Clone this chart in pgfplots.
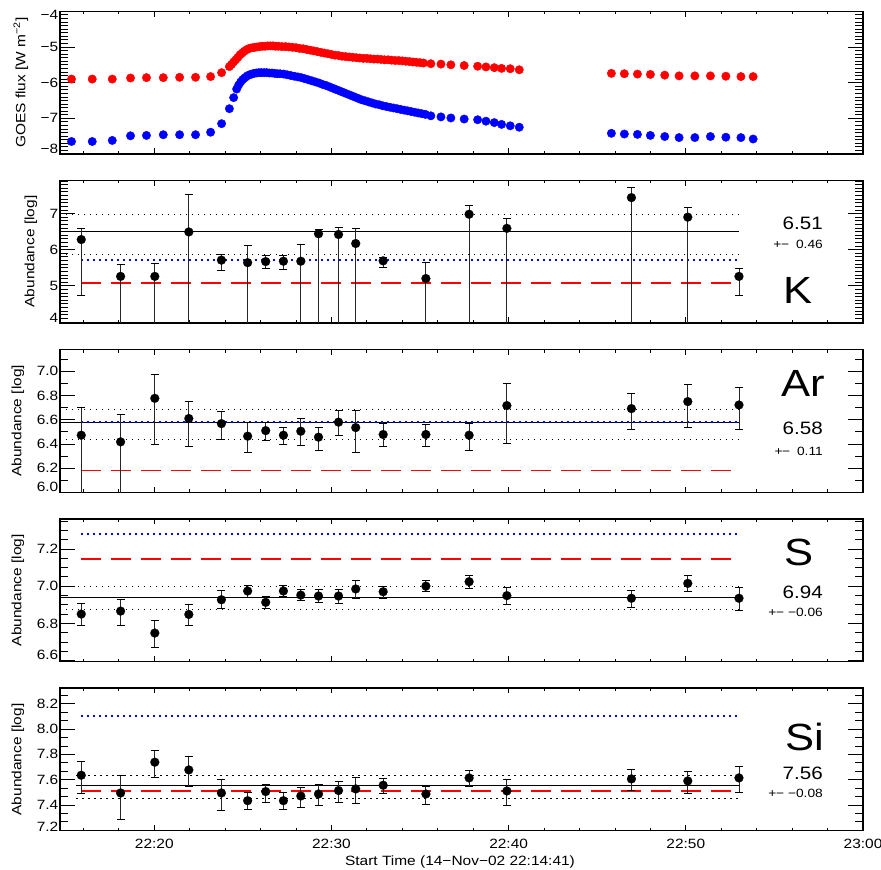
\documentclass[border=0pt]{standalone}
\usepackage{fontspec}
\setmainfont{Liberation Sans}[FakeStretch=1.15]
\usepackage{pgfplots}
\usepackage{pgfplotstable}
\pgfplotsset{compat=1.18}

\pgfplotstableread{
t v hi lo
15.88 6.28 6.58 4.73
18.10 5.26 5.59 3.0
20.03 5.26 5.61 3.0
21.95 6.49 7.52 3.0
23.79 5.71 5.87 5.42
25.27 5.64 6.11 3.0
26.29 5.67 5.83 5.47
27.29 5.68 5.83 5.44
28.27 5.68 6.14 3.0
29.27 6.44 6.57 3.0
30.40 6.42 6.61 3.0
31.37 6.17 6.60 3.0
32.92 5.69 5.79 5.50
35.33 5.20 5.65 3.0
37.77 6.98 7.23 3.0
39.90 6.59 6.86 3.0
46.93 7.44 7.71 3.0
50.11 6.90 7.16 3.0
53.00 5.26 5.49 4.73
}\Kdata

\pgfplotstableread{
t v hi lo
15.88 6.472 6.700 5.8
18.10 6.417 6.645 5.8
20.03 6.777 6.978 6.392
21.95 6.610 6.755 6.380
23.79 6.568 6.665 6.440
25.27 6.464 6.574 6.330
26.29 6.510 6.580 6.425
27.29 6.472 6.538 6.395
28.27 6.505 6.610 6.387
29.27 6.456 6.540 6.350
30.40 6.580 6.673 6.470
31.37 6.535 6.673 6.332
32.92 6.478 6.568 6.379
35.33 6.478 6.560 6.381
37.77 6.472 6.568 6.343
39.90 6.717 6.898 6.400
46.93 6.692 6.816 6.520
50.11 6.750 6.890 6.540
53.00 6.722 6.863 6.522
}\Ardata

\pgfplotstableread{
t v hi lo
15.88 6.850 6.906 6.789
18.10 6.866 6.927 6.791
20.03 6.748 6.816 6.671
21.95 6.848 6.900 6.787
23.79 6.927 6.976 6.881
25.27 6.974 7.003 6.940
26.29 6.913 6.947 6.879
27.29 6.974 7.003 6.943
28.27 6.952 6.983 6.922
29.27 6.947 6.983 6.911
30.40 6.947 6.983 6.908
31.37 6.985 7.028 6.936
32.92 6.970 6.997 6.934
35.33 7.000 7.028 6.970
37.77 7.024 7.058 6.988
39.90 6.949 6.994 6.902
46.93 6.935 6.978 6.886
50.11 7.015 7.057 6.969
53.00 6.935 6.994 6.868
}\Sdata

\pgfplotstableread{
t v hi lo
15.88 7.635 7.746 7.490
18.10 7.495 7.635 7.284
20.03 7.738 7.830 7.619
21.95 7.677 7.780 7.545
23.79 7.495 7.600 7.360
25.27 7.434 7.498 7.363
26.29 7.506 7.566 7.418
27.29 7.434 7.498 7.363
28.27 7.471 7.540 7.384
29.27 7.487 7.564 7.395
30.40 7.514 7.587 7.424
31.37 7.527 7.617 7.413
32.92 7.556 7.606 7.492
35.33 7.487 7.550 7.408
37.77 7.614 7.672 7.545
39.90 7.511 7.598 7.397
46.93 7.606 7.683 7.516
50.11 7.590 7.667 7.492
53.00 7.614 7.704 7.503
}\Sidata

\pgfplotsset{
  panel/.style={
    anchor=south west,
    width=803bp, height=142.7bp, scale only axis,
    xmin=14.68, xmax=60,
    xtick={20,30,40,50,60},
    minor xtick={16,18,22,24,26,28,32,34,36,38,42,44,46,48,52,54,56,58},
    xticklabels={},
    tick align=inside,
    major tick length=15bp, minor tick length=8bp,
    xtick style={/pgfplots/major tick length=5.5bp,/pgfplots/minor tick length=3bp},
    tick style={black, line width=0.8bp},
    axis line style={line width=1.2bp},
    every tick label/.append style={font=\fontsize{13.5}{16}\selectfont},
    yticklabel style={inner sep=1.5bp},
  },
  errpts/.style={only marks, mark=*, mark size=4.5bp, black,
    mark options={fill=black, draw=black, line width=0.1bp},
    error bars/.cd, y dir=both, y explicit,
    error bar style={line width=0.9bp, black!85},
    error mark options={rotate=90, line width=0.9bp, mark size=4bp, black}},
  meanline/.style={black, line width=0.9bp},
  sdline/.style={black, line width=0.9bp, dash pattern=on 1.2bp off 4.8bp},
  blueline/.style={color=blue, line width=2bp, dash pattern=on 2bp off 4bp},
  redline/.style={color=red, line width=1.8bp, dash pattern=on 20bp off 10bp},
}

\begin{document}
\begin{tikzpicture}
\useasboundingbox (0,0) rectangle (881bp,870bp);

% ---------------- GOES panel
\begin{axis}[panel, at={(60bp,716bp)},
  ymin=-8, ymax=-4, ytick={-8,-7,-6,-5,-4},
  yticklabels={\raisebox{5bp}[\height][\depth]{−8},−7,−6,−5,\raisebox{-4bp}[\height][\depth]{−4}},
  minor ytick={-8,-7.9,...,-4}]
\addplot[only marks, mark=*, mark size=4.2bp, color=red, mark options={draw=red, fill=red}] coordinates {
(15.33,-5.90) (16.50,-5.90) (17.63,-5.90) (18.66,-5.87) (19.56,-5.86) (20.51,-5.86) (21.43,-5.85) (22.33,-5.85) (23.18,-5.83) (23.80,-5.72)
(24.24,-5.55) (24.36,-5.49) (24.48,-5.42) (24.60,-5.36) (24.72,-5.29) (24.84,-5.22) (24.96,-5.17) (25.08,-5.12) (25.20,-5.08) (25.32,-5.05)
(25.44,-5.03) (25.56,-5.02) (25.68,-5.01) (25.80,-5.00) (25.95,-4.99) (26.10,-4.98) (26.25,-4.98) (26.40,-4.97) (26.55,-4.97) (26.70,-4.97)
(26.85,-4.98) (27.00,-4.98) (27.20,-4.99) (27.40,-4.99) (27.60,-5.00) (27.80,-5.01) (28.00,-5.02) (28.20,-5.04) (28.40,-5.05) (28.60,-5.07)
(28.80,-5.09) (29.00,-5.11) (29.20,-5.13) (29.40,-5.15) (29.60,-5.17) (29.80,-5.19) (30.00,-5.21) (30.20,-5.23) (30.40,-5.24) (30.60,-5.26)
(30.80,-5.27) (31.00,-5.28) (31.20,-5.29) (31.40,-5.30) (31.60,-5.31) (31.80,-5.32) (32.00,-5.32) (32.20,-5.33) (32.40,-5.34) (32.60,-5.34)
(32.80,-5.35) (33.00,-5.36) (33.20,-5.36) (33.40,-5.37) (33.60,-5.38) (33.80,-5.38) (34.00,-5.39) (34.20,-5.40) (34.40,-5.41) (34.60,-5.42)
(34.80,-5.43) (35.00,-5.44) (35.20,-5.45) (35.61,-5.47) (36.18,-5.48) (36.74,-5.50) (37.49,-5.52) (38.25,-5.54)
(38.72,-5.56) (39.19,-5.58) (39.60,-5.60) (40.09,-5.61) (40.60,-5.64)
(45.80,-5.74) (46.53,-5.75) (47.27,-5.76) (48.00,-5.77) (48.81,-5.79) (49.62,-5.81) (50.51,-5.81) (51.39,-5.81) (52.26,-5.82) (53.11,-5.83) (53.80,-5.83)
};
\addplot[only marks, mark=*, mark size=4.2bp, color=blue, mark options={draw=blue, fill=blue}] coordinates {
(15.33,-7.65) (16.50,-7.65) (17.63,-7.62) (18.66,-7.49) (19.56,-7.48) (20.51,-7.46) (21.43,-7.46) (22.33,-7.46) (23.18,-7.39) (23.80,-7.15)
(24.24,-6.73) (24.48,-6.42) (24.65,-6.18) (24.76,-6.07) (24.88,-5.98) (25.00,-5.91) (25.12,-5.86) (25.25,-5.81) (25.38,-5.78) (25.50,-5.76)
(25.63,-5.74) (25.76,-5.73) (25.90,-5.72) (26.05,-5.72) (26.20,-5.72) (26.35,-5.72) (26.50,-5.73) (26.65,-5.73) (26.80,-5.74) (26.95,-5.75)
(27.10,-5.75) (27.30,-5.76) (27.50,-5.78) (27.70,-5.80) (27.90,-5.82) (28.10,-5.84) (28.30,-5.86) (28.50,-5.89) (28.70,-5.92) (28.90,-5.95)
(29.10,-5.98) (29.30,-6.01) (29.50,-6.05) (29.70,-6.08) (29.90,-6.12) (30.10,-6.16) (30.30,-6.20) (30.50,-6.24) (30.70,-6.28) (30.90,-6.32)
(31.10,-6.36) (31.30,-6.40) (31.50,-6.44) (31.70,-6.48) (31.90,-6.51) (32.10,-6.54) (32.30,-6.57) (32.50,-6.60) (32.70,-6.62) (32.90,-6.65)
(33.10,-6.67) (33.30,-6.69) (33.50,-6.71) (33.70,-6.73) (33.90,-6.75) (34.10,-6.77) (34.30,-6.79) (34.50,-6.81) (34.70,-6.83) (34.90,-6.85)
(35.10,-6.87) (35.30,-6.89) (35.61,-6.93) (36.18,-6.96) (36.74,-6.99) (37.49,-7.02) (38.25,-7.04) (38.72,-7.08)
(39.19,-7.12) (39.60,-7.17) (40.09,-7.21) (40.60,-7.25)
(45.80,-7.42) (46.53,-7.44) (47.27,-7.45) (48.00,-7.48) (48.81,-7.51) (49.62,-7.54) (50.51,-7.54) (51.39,-7.51) (52.26,-7.53) (53.11,-7.54) (53.80,-7.58)
};
\end{axis}

% ---------------- K panel
\begin{axis}[panel, at={(60bp,547bp)},
  ymin=3.97, ymax=7.92, ytick={4,5,6,7},
  yticklabels={\raisebox{4bp}[\height][\depth]{4},5,6,7},
  minor ytick={4,4.1,...,7.9}]
\addplot[meanline] coordinates {(14.68,6.51) (53.0,6.51)};
\addplot[sdline] coordinates {(14.68,6.98) (53.0,6.98)};
\addplot[sdline] coordinates {(14.68,5.87) (53.0,5.87)};
\addplot[blueline] coordinates {(15.88,5.70) (53.0,5.70)};
\addplot[redline] coordinates {(15.88,5.07) (53.0,5.07)};
\addplot[errpts] table[x=t, y=v, y error plus expr=\thisrow{hi}-\thisrow{v}, y error minus expr=\thisrow{v}-\thisrow{lo}] {\Kdata};
\end{axis}

% ---------------- Ar panel
\begin{axis}[panel, at={(60bp,377.7bp)},
  ymin=6.0, ymax=7.18, ytick={6.0,6.2,6.4,6.6,6.8,7.0},
  yticklabels={\raisebox{5bp}[\height][\depth]{6.0},6.2,6.4,6.6,6.8,7.0},
  minor ytick={6.0,6.1,...,7.15}]
\addplot[meanline] coordinates {(14.68,6.58) (53.0,6.58)};
\addplot[sdline] coordinates {(14.68,6.684) (53.0,6.684)};
\addplot[sdline] coordinates {(14.68,6.436) (53.0,6.436)};
\addplot[blueline] coordinates {(15.88,6.58) (53.0,6.58)};
\addplot[redline] coordinates {(15.88,6.18) (53.0,6.18)};
\addplot[errpts] table[x=t, y=v, y error plus expr=\thisrow{hi}-\thisrow{v}, y error minus expr=\thisrow{v}-\thisrow{lo}] {\Ardata};
\end{axis}

% ---------------- S panel
\begin{axis}[panel, at={(60bp,208.3bp)},
  ymin=6.594, ymax=7.361, ytick={6.6,6.8,7.0,7.2},
  yticklabels={\raisebox{6bp}[\height][\depth]{6.6},6.8,7.0,7.2},
  minor ytick={6.6,6.65,...,7.36}]
\addplot[meanline] coordinates {(14.68,6.94) (53.0,6.94)};
\addplot[sdline] coordinates {(14.68,6.999) (53.0,6.999)};
\addplot[sdline] coordinates {(14.68,6.875) (53.0,6.875)};
\addplot[blueline] coordinates {(15.88,7.279) (53.0,7.279)};
\addplot[redline] coordinates {(15.88,7.146) (53.0,7.146)};
\addplot[errpts] table[x=t, y=v, y error plus expr=\thisrow{hi}-\thisrow{v}, y error minus expr=\thisrow{v}-\thisrow{lo}] {\Sdata};
\end{axis}

% ---------------- Si panel
\begin{axis}[panel, at={(60bp,39.3bp)},
  ymin=7.197, ymax=8.324, ytick={7.2,7.4,7.6,7.8,8.0,8.2},
  yticklabels={\raisebox{4bp}[\height][\depth]{7.2},7.4,7.6,7.8,8.0,8.2},
  minor ytick={7.2,7.2667,7.3333,7.4,7.4667,7.5333,7.6,7.6667,7.7333,7.8,7.8667,7.9333,8.0,8.0667,8.1333,8.2,8.2667},
  xticklabels={22:20,22:30,22:40,22:50,23:00},
  xticklabel style={yshift=-5bp}]
\addplot[meanline] coordinates {(15.6,7.556) (53.0,7.556)};
\addplot[sdline] coordinates {(15.6,7.635) (53.0,7.635)};
\addplot[sdline] coordinates {(15.6,7.455) (53.0,7.455)};
\addplot[blueline] coordinates {(15.88,8.10) (53.0,8.10)};
\addplot[redline] coordinates {(15.88,7.511) (53.0,7.511)};
\addplot[errpts] table[x=t, y=v, y error plus expr=\thisrow{hi}-\thisrow{v}, y error minus expr=\thisrow{v}-\thisrow{lo}] {\Sidata};
\end{axis}

% ---------------- labels
\tikzset{lab/.style={font=\fontsize{13.5}{16}\selectfont, inner sep=0pt}}
\node[lab, rotate=90] at (20.8bp,787.3bp) {GOES flux [W m\textsuperscript{−2}]};
\node[lab, rotate=90] at (31bp,618.5bp) {Abundance [log]};
\node[lab, rotate=90] at (18bp,449.2bp) {Abundance [log]};
\node[lab, rotate=90] at (18bp,279.7bp) {Abundance [log]};
\node[lab, rotate=90] at (18bp,110.5bp) {Abundance [log]};
\node[lab] at (460bp,8bp) {Start Time (14−Nov−02 22:14:41)};

\tikzset{big/.style={font=\fontsize{38}{40}\selectfont, inner sep=0pt},
         mid/.style={font=\fontsize{18}{20}\selectfont, inner sep=0pt, anchor=east},
         sml/.style={font=\fontsize{12}{14}\selectfont, inner sep=0pt, anchor=east}}
% K
\node[mid] at (823bp,647bp) {6.51};
\node[sml] at (823bp,626bp) {+\kern-0.5bp−\hspace{7bp}0.46};
\node[big] at (798bp,580bp) {K};
% Ar
\node[big] at (803bp,487bp) {Ar};
\node[mid] at (823bp,442bp) {6.58};
\node[sml] at (823bp,419bp) {+\kern-0.5bp−\hspace{7bp}0.11};
% S
\node[big] at (799bp,318bp) {S};
\node[mid] at (823bp,278bp) {6.94};
\node[sml] at (823bp,258bp) {+\kern-0.5bp−\hspace{4bp}−0.06};
% Si
\node[big] at (805bp,133bp) {Si};
\node[mid] at (823bp,97bp) {7.56};
\node[sml] at (823bp,77bp) {+\kern-0.5bp−\hspace{4bp}−0.08};
\end{tikzpicture}
\end{document}
